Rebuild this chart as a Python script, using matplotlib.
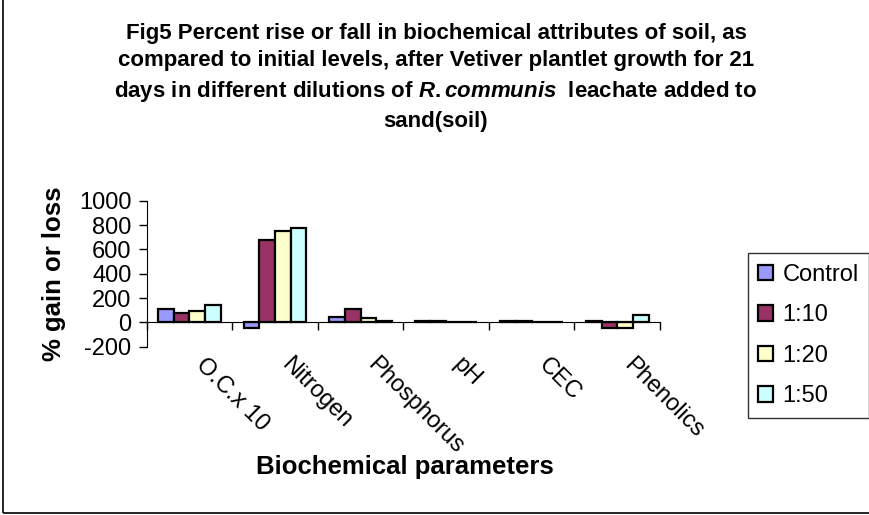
import matplotlib
matplotlib.use('Agg')
import matplotlib.pyplot as plt
import numpy as np

plt.rcParams['font.family'] = ['Liberation Sans', 'DejaVu Sans']
plt.rcParams['mathtext.fontset'] = 'custom'
plt.rcParams['mathtext.it'] = 'Liberation Sans:italic:bold'
plt.rcParams['mathtext.rm'] = 'Liberation Sans:bold'
plt.rcParams['axes.unicode_minus'] = False

categories = ['O.C.x 10', 'Nitrogen', 'Phosphorus', 'pH', 'CEC', 'Phenolics']
series = ['Control', '1:10', '1:20', '1:50']
control = [110, -50, 48, 8, 8, 8]
dil_10 = [76, 680, 112, 8, 8, -50]
dil_20 = [92, 747, 32, 0.5, 0.5, -50]
dil_50 = [141, 775, 15, 0.5, 0.5, 60]
colors = ['#9999FF', '#993366', '#FFFFCC', '#CCFFFF']
yticks = [-200, 0, 200, 400, 600, 800, 1000]

fig = plt.figure(figsize=(8.7, 5.15), dpi=100)
ax = fig.add_axes([146.7 / 870, 1 - 346.7 / 515, (660 - 146.7) / 870, 146 / 515])

x = np.arange(len(categories))
w = 0.183
for k, (name, vals) in enumerate(zip(series, [control, dil_10, dil_20, dil_50])):
    ax.bar(x + (k - 1.5) * w, vals, w, color=colors[k], edgecolor='black',
           linewidth=1.6, label=name, zorder=3)

ax.set_xlim(-0.5, len(categories) - 0.5)
ax.set_ylim(-200, 1000)
ax.set_yticks(yticks)
ax.tick_params(axis='y', direction='out', length=6, width=1, labelsize=17, pad=5)

# category axis crosses at zero, tick marks between categories
ax.spines['bottom'].set_position(('data', 0))
ax.spines['top'].set_visible(False)
ax.spines['right'].set_visible(False)
ax.spines['bottom'].set_zorder(4)
ax.set_xticks(np.arange(len(categories) + 1) - 0.5)
ax.set_xticklabels([])
ax.tick_params(axis='x', direction='out', length=6, width=1)

for i, c in enumerate(categories):
    ax.text(i + 0.12, -0.1, c, transform=ax.get_xaxis_transform(),
            rotation=-45, ha='left', va='center', rotation_mode='anchor', fontsize=17)

ax.set_ylabel('% gain or loss', fontsize=18.5, fontweight='bold', labelpad=9)
fig.text(405 / 870, 1 - 467 / 515, 'Biochemical parameters', ha='center', va='center',
         fontsize=18.5, fontweight='bold')

title = ('Fig5 Percent rise or fall in biochemical attributes of soil, as\n'
         'compared to initial levels, after Vetiver plantlet growth for 21\n'
         r'days in different dilutions of $\mathit{R.communis}$  leachate added to' '\n'
         'sand(soil)')
fig.text(436 / 870, 1 - 77 / 515, title, ha='center', va='center', fontsize=16,
         fontweight='bold', linespacing=1.42, multialignment='center')

leg = ax.legend(loc='upper left', bbox_to_anchor=(747.7 / 870, 1 - 253.3 / 515),
                bbox_transform=fig.transFigure, borderaxespad=0, fontsize=17,
                frameon=True, fancybox=False, handlelength=0.62, handleheight=0.62,
                handletextpad=0.4, labelspacing=0.78, borderpad=0.45)
leg.get_frame().set_edgecolor('black')
leg.get_frame().set_linewidth(1)

fig.patches.append(plt.Rectangle((3 / 870, 2 / 515), 1.2, 1.2, transform=fig.transFigure,
                                 fill=False, edgecolor='black', linewidth=1.2))

fig.savefig('out.png', dpi=100)
